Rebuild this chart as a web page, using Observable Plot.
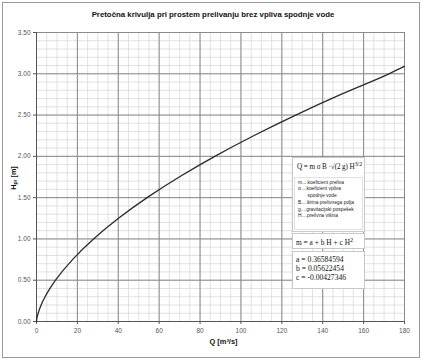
<!DOCTYPE html>
<html>
<head>
<meta charset="utf-8">
<script src="https://cdn.jsdelivr.net/npm/d3@7"></script>
<script src="https://cdn.jsdelivr.net/npm/@observablehq/plot@0.6"></script>
<style>
  html, body { margin: 0; padding: 0; background: #fff; }
  #wrap { position: relative; width: 423px; height: 360px; overflow: hidden; font-family: "Liberation Sans", Arial, sans-serif; }
  #frame { position: absolute; left: 2px; top: 2px; width: 416px; height: 354px; border: 1px solid #9a9a9a; pointer-events: none; }
  #title { position: absolute; left: 213px; top: 14px; transform: translate(-50%, -50%); font-weight: bold; font-size: 9px; color: #111; white-space: nowrap; }
  #ylab { position: absolute; left: 13px; top: 178px; transform: translate(-50%, -50%) rotate(-90deg); font-weight: bold; font-size: 7.2px; color: #111; white-space: nowrap; }
  #ylab sub { font-size: 5px; vertical-align: -1px; }
  .box { position: absolute; background: #fff; border: 1px solid #c8c8c8; box-sizing: border-box; }
  .serif { font-family: "Liberation Serif", "Times New Roman", serif; color: #111; }
  .leg { font-size: 4.9px; color: #222; line-height: 6.8px; }
</style>
</head>
<body>
<div id="wrap">
  <div id="chart"></div>
  <div id="title"></div>
  <div id="ylab"></div>
  <div id="ann"></div>
  <div id="frame"></div>
</div>
<script>
// ---- data ----
const titleText = "Pretočna krivulja pri prostem prelivanju brez vpliva spodnje vode";
const xLabel = "Q [m³/s]";
const yLabelMain = "H";
const yLabelSub = "pr";
const yLabelUnit = " [m]";

const hValues = [0, 0.02, 0.05, 0.1, 0.2, 0.3, 0.4, 0.5, 0.75, 1.0, 1.25, 1.5, 1.75, 2.0, 2.25, 2.5, 2.75, 3.0, 3.09];
const qValues = [0, 0.07, 0.28, 0.8, 2.25, 4.2, 6.6, 9.3, 17.6, 27.9, 40.1, 54.1, 69.8, 87.2, 106.2, 126.8, 148.9, 172.4, 180];

const xTicks = [0, 20, 40, 60, 80, 100, 120, 140, 160, 180];
const yTicks = [0, 0.5, 1.0, 1.5, 2.0, 2.5, 3.0, 3.5];
const xMinor = d3.range(0, 181, 5);
const yMinor = d3.range(0, 36, 1).map(d => d / 10);

const formulaQ = "Q = m σ B ·√(2 g) H<sup>3/2</sup>";
const legendLines = ["m....koeficient preliva", "σ....koeficient vpliva", "&nbsp;&nbsp;&nbsp;&nbsp;&nbsp;&nbsp;&nbsp;spodnje vode", "B....širina prelivnega polja", "g....gravitacijski pospešek", "H....prelivna višina"];
const formulaM = "m = a + b H + c H<sup>2</sup>";
const coefLines = ["a = 0.36584594", "b = 0.05622454", "c = -0.00427346"];

// ---- chart ----
const data = hValues.map((h, i) => ({H: h, Q: qValues[i]}));

const chart = Plot.plot({
  width: 423,
  height: 360,
  marginLeft: 36,
  marginRight: 19,
  marginTop: 32,
  marginBottom: 39,
  style: {background: "#fff", fontFamily: "Liberation Sans, Arial, sans-serif"},
  x: {domain: [0, 180]},
  y: {domain: [0, 3.5]},
  marks: [
    Plot.ruleX(xMinor, {stroke: "#d9d9d9", strokeWidth: 0.8}),
    Plot.ruleY(yMinor, {stroke: "#d9d9d9", strokeWidth: 0.8}),
    Plot.ruleX(xTicks, {stroke: "#8a8a8a", strokeWidth: 1}),
    Plot.ruleY(yTicks, {stroke: "#8a8a8a", strokeWidth: 1}),
    Plot.ruleX([0], {stroke: "#555", strokeWidth: 1}),
    Plot.ruleY([0], {stroke: "#555", strokeWidth: 1}),
    Plot.axisX({ticks: xTicks, tickSize: 3, tickPadding: 4, fontSize: 6.5, color: "#555", label: null, tickFormat: d => String(d)}),
    Plot.axisY({ticks: yTicks, tickSize: 3, tickPadding: 3, fontSize: 6.5, color: "#555", label: null, tickFormat: d3.format(".2f")}),
    Plot.line(data, {x: "Q", y: "H", stroke: "#2a2a2a", strokeWidth: 1.3, curve: "monotone-y"}),
    Plot.text([xLabel], {frameAnchor: "bottom", dy: 22, dx: 3, text: d => d, fontWeight: "bold", fontSize: 7.4, fill: "#111"})
  ]
});
document.getElementById("chart").appendChild(chart);

const titleEl = document.getElementById("title");
titleEl.textContent = titleText;
// fit the title to the width it has in the reference (about 243 px)
const tw = titleEl.getBoundingClientRect().width;
if (tw > 0) titleEl.style.fontSize = (9 * 243 / tw).toFixed(2) + "px";

document.getElementById("ylab").innerHTML = yLabelMain + "<sub>" + yLabelSub + "</sub>" + yLabelUnit;

// ---- annotation boxes ----
const ann = document.getElementById("ann");
ann.innerHTML = `
  <div class="box" style="left:292px; top:157px; width:73px; height:75px;">
    <div class="serif" style="position:absolute; left:4px; top:3px; font-size:7.2px; white-space:nowrap; letter-spacing:-0.1px;">${formulaQ}</div>
    <div class="box leg" style="left:1px; top:19px; width:69px; height:53px; border-color:#e0e0e0; padding:1.5px 0 0 3px;">${legendLines.join("<br>")}</div>
  </div>
  <div class="box" style="left:292px; top:233px; width:73px; height:16px;">
    <div class="serif" style="position:absolute; left:3px; top:2.5px; font-size:7.4px; white-space:nowrap;">${formulaM}</div>
  </div>
  <div class="box" style="left:292px; top:251px; width:73px; height:38px;">
    <div class="serif" style="position:absolute; left:3px; top:3px; font-size:7.6px; line-height:9px; white-space:nowrap;">${coefLines.join("<br>")}</div>
  </div>`;
</script>
</body>
</html>
